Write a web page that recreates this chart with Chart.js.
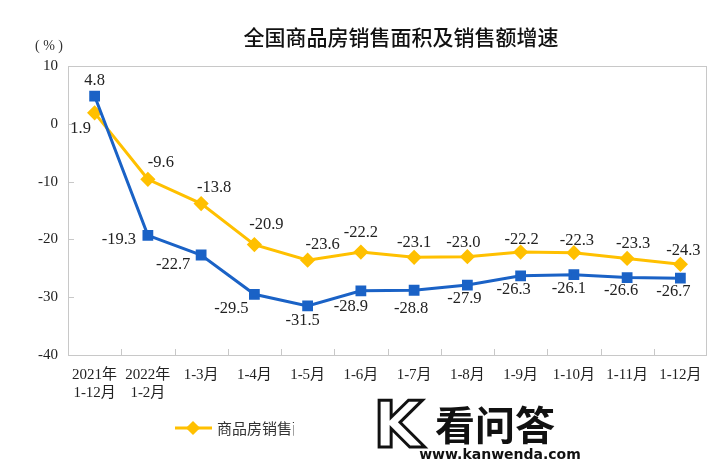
<!DOCTYPE html>
<html>
<head>
<meta charset="utf-8">
<script src="https://cdn.jsdelivr.net/npm/chart.js@4/dist/chart.umd.min.js"></script>
<style>
  body { margin: 0; background: #fff; }
  #wrap { width: 720px; height: 465px; }
</style>
</head>
<body>
<div id="wrap"><canvas id="grafico" width="720" height="465"></canvas></div>
<script>
// datos
const categorias = [['2021年', '1-12月'], ['2022年', '1-2月'], '1-3月', '1-4月', '1-5月', '1-6月', '1-7月', '1-8月', '1-9月', '1-10月', '1-11月', '1-12月'];
const ventasImporte = [4.8, -19.3, -22.7, -29.5, -31.5, -28.9, -28.8, -27.9, -26.3, -26.1, -26.6, -26.7];
const ventasArea = [1.9, -9.6, -13.8, -20.9, -23.6, -22.2, -23.1, -23.0, -22.2, -22.3, -23.3, -24.3];
const ticksY = [10, 0, -10, -20, -30, -40];

const titulo = '全国商品房销售面积及销售额增速';
const azul = '#1A62C6';
const amarillo = '#FFC000';
const serif = '"Liberation Serif", "Noto Sans CJK SC", serif';

// desplazamiento de las etiquetas respecto a cada punto
const despAzul = [[0, -15], [-29, 4], [-28, 10], [-23, 14], [-5, 15], [-10, 16], [-3, 18], [-3, 14], [-7, 14], [-5, 14], [-6, 13], [-7, 14]];
const despAmarillo = [[-14, 16], [13, -17], [13, -16], [12, -20], [15, -16], [0, -19], [0, -15], [-4, -14], [1, -12], [3, -12], [6, -15], [3, -14]];

const extras = {
  id: 'extras',
  beforeDatasetsDraw(chart) {
    const ctx = chart.ctx;
    const a = chart.chartArea;
    const x = chart.scales.x;
    const y = chart.scales.y;
    ctx.save();
    ctx.strokeStyle = '#c8c8c8';
    ctx.lineWidth = 1;
    ctx.strokeRect(a.left + 0.5, a.top + 0.5, a.right - a.left - 1, a.bottom - a.top);
    // marcas del eje x (entre categorias)
    const paso = (x.getPixelForValue(1) - x.getPixelForValue(0));
    ctx.beginPath();
    for (let i = 1; i < categorias.length; i++) {
      const px = Math.round(x.getPixelForValue(i) - paso / 2) + 0.5;
      ctx.moveTo(px, a.bottom);
      ctx.lineTo(px, a.bottom - 6);
    }
    // marcas del eje y
    ticksY.forEach(v => {
      const py = Math.round(y.getPixelForValue(v)) + 0.5;
      ctx.moveTo(a.left, py);
      ctx.lineTo(a.left + 6, py);
    });
    ctx.stroke();
    ctx.restore();
  },
  afterDatasetsDraw(chart) {
    const ctx = chart.ctx;
    ctx.save();
    ctx.font = '16.5px ' + serif;
    ctx.fillStyle = '#222';
    ctx.textAlign = 'center';
    ctx.textBaseline = 'middle';
    [despAzul, despAmarillo].forEach((desp, d) => {
      const meta = chart.getDatasetMeta(d);
      meta.data.forEach((p, i) => {
        ctx.fillText(chart.data.datasets[d].data[i].toFixed(1), p.x + desp[i][0], p.y + desp[i][1]);
      });
    });

    // titulo y unidad
    ctx.fillStyle = '#111';
    ctx.font = '500 21px "Noto Sans CJK SC"';
    ctx.fillText(titulo, 401, 37);
    ctx.font = '14px ' + serif;
    ctx.fillStyle = '#333';
    ctx.fillText('( % )', 49, 46);

    // leyenda
    const ly = 428;
    const items = [[amarillo, 'rectRot', '商品房销售面积', 175], [azul, 'rect', '商品房销售额', 400]];
    items.forEach(it => {
      ctx.strokeStyle = it[0];
      ctx.fillStyle = it[0];
      ctx.lineWidth = 3;
      ctx.beginPath();
      ctx.moveTo(it[3], ly);
      ctx.lineTo(it[3] + 37, ly);
      ctx.stroke();
      Chart.helpers.drawPoint(ctx, { pointStyle: it[1], radius: 5, borderWidth: 1 }, it[3] + 18, ly);
      ctx.fillStyle = '#333';
      ctx.textAlign = 'left';
      ctx.font = '15px "Noto Sans CJK SC"';
      ctx.fillText(it[2], it[3] + 42, ly);
    });

    // marca de agua
    ctx.fillStyle = '#fff';
    ctx.fillRect(294, 398, 310, 67);
    ctx.font = 'bold 64px "DejaVu Sans"';
    ctx.textAlign = 'center';
    ctx.lineWidth = 3;
    ctx.strokeStyle = '#111';
    ctx.strokeText('K', 398, 430);
    ctx.fillStyle = '#111';
    ctx.font = 'bold 40px "Noto Sans CJK SC"';
    ctx.fillText('看问答', 495, 425);
    ctx.font = 'bold 14px "DejaVu Sans"';
    ctx.fillText('www.kanwenda.com', 500, 455);
    ctx.restore();
  }
};

new Chart(document.getElementById('grafico'), {
  type: 'line',
  data: {
    labels: categorias,
    datasets: [{
      label: '商品房销售额',
      data: ventasImporte,
      borderColor: azul,
      backgroundColor: azul,
      borderWidth: 3,
      pointStyle: 'rect',
      pointRadius: 5.5,
      tension: 0
    }, {
      label: '商品房销售面积',
      data: ventasArea,
      borderColor: amarillo,
      backgroundColor: amarillo,
      borderWidth: 3,
      pointStyle: 'rectRot',
      pointRadius: 5.5,
      tension: 0
    }]
  },
  options: {
    responsive: false,
    animation: false,
    layout: { padding: { top: 66, right: 13, left: 0, bottom: 0 } },
    plugins: {
      legend: { display: false },
      title: { display: false },
      tooltip: { enabled: false }
    },
    scales: {
      x: {
        offset: true,
        grid: { display: false, drawTicks: false },
        border: { display: false },
        ticks: {
          color: '#222',
          padding: 11,
          maxRotation: 0,
          autoSkip: false,
          font: { family: serif, size: 15, lineHeight: 1.2 }
        },
        afterFit(s) { s.height = 110; }
      },
      y: {
        min: -40,
        max: 10,
        grid: { display: false, drawTicks: false },
        border: { display: false },
        ticks: {
          stepSize: 10,
          color: '#222',
          padding: 10,
          font: { family: serif, size: 15 }
        },
        afterFit(s) { s.width = 68; }
      }
    }
  },
  plugins: [extras]
});
</script>
</body>
</html>
